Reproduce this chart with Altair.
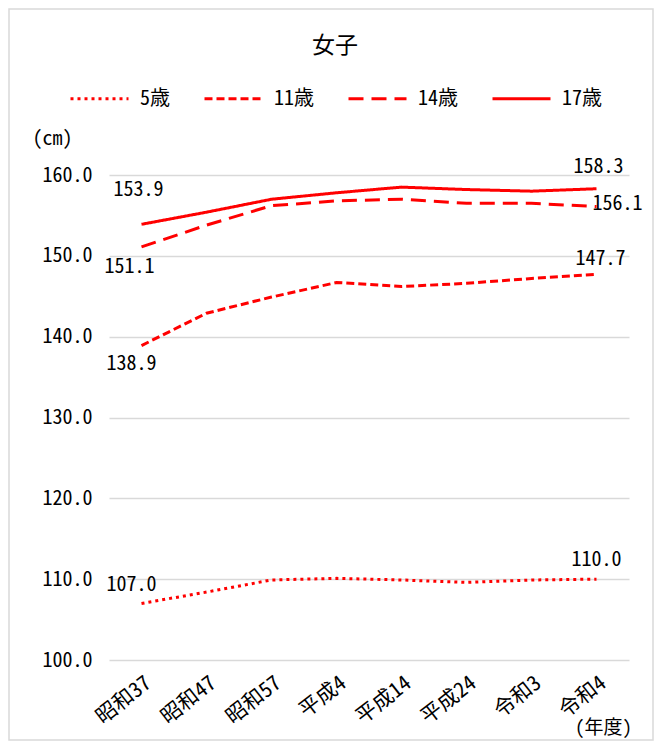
import altair as alt
import pandas as pd

categories = ["昭和37", "昭和47", "昭和57", "平成4", "平成14", "平成24", "令和3", "令和4"]
series_names = ["5歳", "11歳", "14歳", "17歳"]
age5 = [107.0, 108.4, 109.9, 110.1, 109.9, 109.6, 109.9, 110.0]
age11 = [138.9, 142.9, 144.9, 146.7, 146.2, 146.6, 147.2, 147.7]
age14 = [151.1, 153.8, 156.2, 156.8, 157.0, 156.5, 156.5, 156.1]
age17 = [153.9, 155.4, 157.0, 157.8, 158.5, 158.2, 158.0, 158.3]
y_ticks = [100, 110, 120, 130, 140, 150, 160]
chart_title = "女子"

values = {"5歳": age5, "11歳": age11, "14歳": age14, "17歳": age17}
rows = []
for s in series_names:
    for c, v in zip(categories, values[s]):
        rows.append({"年度": c, "系列": s, "身長": v})
df = pd.DataFrame(rows)

FONT = "Noto Sans Mono CJK JP, Noto Sans CJK JP, sans-serif"
RED = "#ff0000"
GRID = "#d9d9d9"
FS = 20

x_enc = alt.X(
    "年度:N", sort=categories,
    scale=alt.Scale(type="point", padding=0.5),
    axis=alt.Axis(title="(年度)", labelAngle=-38, labelAlign="right", labelBaseline="top",
                  labelPadding=12, titleX=494, titleY=67, titleAlign="center",
                  titleBaseline="middle", ticks=False, domain=False, grid=False,
                  labelFontSize=21, titleFontSize=19, labelColor="black", titleColor="black",
                  titleFontWeight="normal", labelFont=FONT, titleFont=FONT),
)
y_enc = alt.Y(
    "身長:Q",
    scale=alt.Scale(domain=[100, 160], nice=False, zero=False),
    axis=alt.Axis(title="(cm)", titleAngle=0, titleX=-57, titleY=-37, titleAlign="center",
                  titleBaseline="middle", values=y_ticks, format=".1f", ticks=False,
                  domain=False, gridColor=GRID, gridWidth=1.5, labelPadding=17,
                  labelFontSize=FS, titleFontSize=FS, labelColor="black", titleColor="black",
                  titleFontWeight="normal", labelFont=FONT, titleFont=FONT),
)

lines = alt.Chart(df).mark_line(color=RED, strokeWidth=3).encode(
    x=x_enc, y=y_enc,
    strokeDash=alt.StrokeDash(
        "系列:N", sort=series_names,
        scale=alt.Scale(domain=series_names, range=[[3, 4], [8, 4], [15, 8], [1, 0]]),
        legend=alt.Legend(title=None, orient="none", legendX=-40, legendY=-107,
                          direction="horizontal", columns=4, symbolType="stroke",
                          symbolSize=3364, symbolStrokeWidth=3, symbolStrokeColor=RED,
                          labelFont=FONT, labelFontSize=FS, labelColor="black",
                          labelOffset=10, columnPadding=28, padding=0),
    ),
)

# label placement: (series, category index, dx, dy)
label_specs = [
    ("17歳", 0, -3, -34), ("14歳", 0, -12, 20), ("11歳", 0, -10, 18), ("5歳", 0, -10, -18),
    ("17歳", 7, 2, -22), ("14歳", 7, 21, -3), ("11歳", 7, 4, -15), ("5歳", 7, 0, -19),
]
label_layers = []
for s, i, dx, dy in label_specs:
    label_layers.append(
        alt.Chart(df).transform_filter(
            (alt.datum["系列"] == s) & (alt.datum["年度"] == categories[i])
        ).mark_text(font=FONT, fontSize=FS, color="black", dx=dx, dy=dy).encode(
            x=alt.X("年度:N", sort=categories), y="身長:Q",
            text=alt.Text("身長:Q", format=".1f"),
        )
    )

border = alt.Chart(pd.DataFrame({"a": [0]})).mark_rect(
    fillOpacity=0, stroke=GRID, strokeWidth=1.5
).encode(x=alt.value(-100), x2=alt.value(544), y=alt.value(-166), y2=alt.value(565))

title = alt.Chart(pd.DataFrame({"t": [chart_title]})).mark_text(
    font=FONT, fontSize=23, color="black", baseline="middle", align="center"
).encode(x=alt.value(226), y=alt.value(-129), text="t:N")

chart = alt.layer(border, title, lines, *label_layers).properties(
    width=520, height=485,
    padding={"left": 101, "top": 167, "right": 25, "bottom": 81},
    autosize=alt.AutoSizeParams(type="none"),
).configure_view(strokeWidth=0)

chart.save("out.html", embed_options={"renderer": "svg", "actions": False})
